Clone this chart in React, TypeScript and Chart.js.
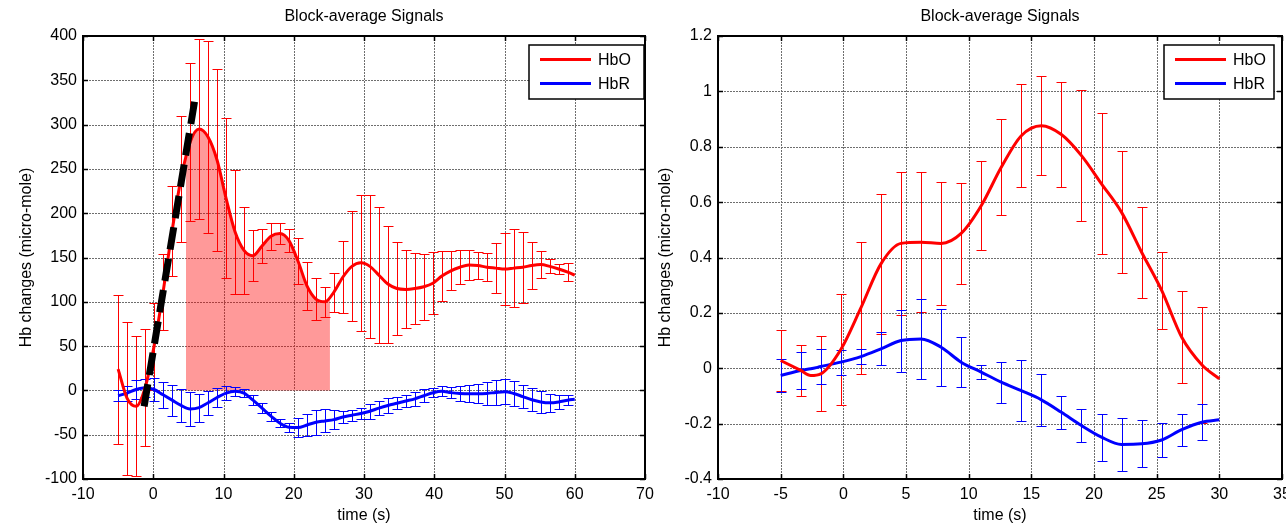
import React, { useEffect, useRef } from 'react';
import { Chart, registerables } from 'chart.js';

Chart.register(...registerables);

const FONT = "'Liberation Sans', Arial, Helvetica, sans-serif";
const H = 527;

// ---------- shared text ----------
const titleText = 'Block-average Signals';
const xTitleText = 'time (s)';
const yTitleText = 'Hb changes (micro-mole)';
const legendLabels = ['HbO', 'HbR'];

// ---------- left panel data ----------
const leftXTicks = [-10, 0, 10, 20, 30, 40, 50, 60, 70];
const leftYTicks = [-100, -50, 0, 50, 100, 150, 200, 250, 300, 350, 400];
const leftTimes = [
  -5, -3.72, -2.44, -1.16, 0.12, 1.4, 2.68, 3.96, 5.24, 6.52,
  7.8, 9.08, 10.36, 11.64, 12.92, 14.2, 15.48, 16.76, 18.04, 19.32,
  20.6, 21.88, 23.16, 24.44, 25.72, 27, 28.28, 29.56, 30.84, 32.12,
  33.4, 34.68, 35.96, 37.24, 38.52, 39.8, 41.08, 42.36, 43.64, 44.92,
  46.2, 47.48, 48.76, 50.04, 51.32, 52.6, 53.88, 55.16, 56.44, 57.72,
  59, 60,
];
const leftHbO = [
  24, -9, -18, 3, 50, 111, 180, 239, 280, 295,
  286, 260, 217, 179, 158, 152, 163, 174, 177, 169,
  146, 118, 103, 100, 111, 128, 140, 144, 140, 130,
  120, 115, 114, 115, 117, 121, 129, 135, 139, 141.5,
  141, 139, 138, 137, 138, 139, 141, 142, 140, 137,
  133.5, 130,
];
const leftHbOErr = [
  84, 86, 79, 66, 49, 43, 51, 71, 89, 102,
  108, 103, 90, 70, 49, 29, 19, 15, 12, 13,
  26, 27, 24, 17, 22, 41, 62, 77, 81, 77,
  66, 53, 44, 40, 37, 35, 28, 22, 19, 17,
  15, 16, 28, 41, 44, 40, 27, 15, 8, 6,
  10, null,
];
const leftHbR = [
  -6, -3, 1, 3, 1, -5, -11, -17, -21, -19.5,
  -14, -8, -3, -1, -3, -11, -20, -29, -37, -41.5,
  -42, -39, -36, -34.5, -33, -30, -28, -26, -23.5, -20,
  -17, -14.5, -12, -9.5, -6, -2.7, -1, -2.5, -3.4, -3.8,
  -3.8, -3.4, -2.3, -1.5, -3.5, -7, -10.5, -13, -14, -13,
  -11, -10,
];
const leftHbRErr = [
  6, 8.5, 10.7, 10.4, 13, 14.7, 17.6, 18.4, 19, 16,
  13.6, 10.8, 7.5, 4.8, 5, 6, 6, 5, 4.5, 5,
  11, 12.5, 14, 13, 11, 6.5, 6, 6, 8.5, 7.5,
  8, 7, 6.6, 8, 7.5, 5, 5.7, 6.6, 8, 9.4,
  10.7, 12.6, 14, 14.2, 13.6, 13.4, 13.2, 12, 10.4, 8,
  5.5, null,
];
// shaded window under the HbO curve
const stimWindow = [4.65, 25.15];
const stimEdgeHbO = [272, 105];
// dashed slope line
const slopeTimes = [-1.3, 5.9];
const slopeValues = [-18, 327];

// ---------- right panel data ----------
const rightXTicks = [-10, -5, 0, 5, 10, 15, 20, 25, 30, 35];
const rightYTicks = [-0.4, -0.2, 0, 0.2, 0.4, 0.6, 0.8, 1, 1.2];
const rightTimes = [
  -5, -3.4, -2.6, -1.8, -0.2, 1.4, 3, 4.6, 6.2, 7.8, 9.4, 11,
  12.6, 14.2, 15.8, 17.4, 19, 20.6, 22.2, 23.8, 25.4, 27, 28.6, 30,
];
const rightHbO = [
  0.028, -0.008, -0.026, -0.02, 0.068, 0.218, 0.377, 0.451, 0.455, 0.451, 0.487, 0.587,
  0.726, 0.84, 0.876, 0.844, 0.768, 0.666, 0.563, 0.419, 0.281, 0.112, 0.013, -0.038,
];
const rightHbOErr = [
  0.11, 0.092, null, 0.136, 0.2, 0.237, 0.253, 0.259, 0.252, 0.223, 0.181, 0.161,
  0.173, 0.187, 0.179, 0.191, 0.236, 0.255, 0.22, 0.164, 0.14, 0.167, 0.209, null,
];
const rightHbR = [
  -0.026, -0.008, -0.002, 0.006, 0.022, 0.042, 0.07, 0.1, 0.106, 0.076, 0.022, -0.014,
  -0.05, -0.081, -0.114, -0.159, -0.207, -0.249, -0.275, -0.273, -0.259, -0.222, -0.195, -0.186,
];
const rightHbRErr = [
  0.058, 0.068, null, 0.062, 0.045, 0.028, 0.06, 0.112, 0.145, 0.139, 0.09, 0.026,
  0.074, 0.109, 0.095, 0.06, 0.059, 0.085, 0.096, 0.085, 0.061, 0.058, 0.065, null,
];

const RED = '#ff0000';
const BLUE = '#0000ff';

const leftPanel: any = {
  canvasLeft: 0,
  canvasWidth: 660,
  area: { left: 83, right: 645, top: 36, bottom: 479 },
  xTicks: leftXTicks,
  yTicks: leftYTicks,
  times: leftTimes,
  hbo: leftHbO,
  hboErr: leftHbOErr,
  hbr: leftHbR,
  hbrErr: leftHbRErr,
  yTitleCenter: 27,
  legendGap: 1,
  legendWidth: 115,
  fmt: (v: number) => String(v),
  fill: true,
  slope: true,
};

const rightPanel: any = {
  canvasLeft: 650,
  canvasWidth: 636,
  area: { left: 68, right: 632, top: 36, bottom: 479 },
  xTicks: rightXTicks,
  yTicks: rightYTicks,
  times: rightTimes,
  hbo: rightHbO,
  hboErr: rightHbOErr,
  hbr: rightHbR,
  hbrErr: rightHbRErr,
  yTitleCenter: 16,
  legendGap: 8,
  legendWidth: 110,
  fmt: (v: number) => String(Math.round(v * 10) / 10),
  fill: false,
  slope: false,
};

const pts = (t: number[], v: number[]) => t.map((x, i) => ({ x, y: v[i] }));

function makePlugin(p: any, fillIndex: number) {
  const drawBars = (chart: any) => {
    const { ctx, chartArea: a, scales } = chart;
    const xs = scales.x;
    const ys = scales.y;
    ctx.save();
    ctx.beginPath();
    ctx.rect(a.left, a.top, a.right - a.left, a.bottom - a.top);
    ctx.clip();
    ctx.lineWidth = 1;
    ctx.setLineDash([]);
    const series: any[] = [
      [p.hbo, p.hboErr, RED],
      [p.hbr, p.hbrErr, BLUE],
    ];
    series.forEach(([m, e, c]) => {
      ctx.strokeStyle = c;
      ctx.beginPath();
      p.times.forEach((t: number, i: number) => {
        const err = e[i];
        if (err == null) return;
        const px = Math.round(xs.getPixelForValue(t)) + 0.5;
        const yt = Math.round(ys.getPixelForValue(m[i] + err)) + 0.5;
        const yb = Math.round(ys.getPixelForValue(m[i] - err)) + 0.5;
        ctx.moveTo(px, yt);
        ctx.lineTo(px, yb);
        ctx.moveTo(px - 5, yt);
        ctx.lineTo(px + 5, yt);
        ctx.moveTo(px - 5, yb);
        ctx.lineTo(px + 5, yb);
      });
      ctx.stroke();
    });
    ctx.restore();
  };

  return {
    id: 'matlabLook',
    beforeDatasetsDraw(chart: any) {
      const { ctx, chartArea: a, scales } = chart;
      ctx.save();
      ctx.strokeStyle = '#6e6e6e';
      ctx.lineWidth = 1;
      ctx.setLineDash([2, 1]);
      ctx.beginPath();
      p.xTicks.forEach((v: number, i: number) => {
        if (i === 0 || i === p.xTicks.length - 1) return;
        const px = Math.round(scales.x.getPixelForValue(v)) + 0.5;
        ctx.moveTo(px, a.top);
        ctx.lineTo(px, a.bottom);
      });
      p.yTicks.forEach((v: number, i: number) => {
        if (i === 0 || i === p.yTicks.length - 1) return;
        const py = Math.round(scales.y.getPixelForValue(v)) + 0.5;
        ctx.moveTo(a.left, py);
        ctx.lineTo(a.right, py);
      });
      ctx.stroke();
      ctx.restore();
      if (fillIndex < 0) drawBars(chart);
    },
    afterDatasetDraw(chart: any, args: any) {
      if (fillIndex >= 0 && args.index === fillIndex) drawBars(chart);
    },
    afterDatasetsDraw(chart: any) {
      const { ctx, chartArea: a, scales } = chart;
      ctx.save();
      ctx.setLineDash([]);
      // plot box
      ctx.strokeStyle = '#000';
      ctx.lineWidth = 2;
      ctx.strokeRect(a.left, a.top, a.right - a.left, a.bottom - a.top);
      // inward ticks
      ctx.lineWidth = 1.5;
      ctx.beginPath();
      p.xTicks.forEach((v: number) => {
        const px = Math.round(scales.x.getPixelForValue(v)) + 0.5;
        ctx.moveTo(px, a.bottom);
        ctx.lineTo(px, a.bottom - 5);
        ctx.moveTo(px, a.top);
        ctx.lineTo(px, a.top + 5);
      });
      p.yTicks.forEach((v: number) => {
        const py = Math.round(scales.y.getPixelForValue(v)) + 0.5;
        ctx.moveTo(a.left, py);
        ctx.lineTo(a.left + 5, py);
        ctx.moveTo(a.right, py);
        ctx.lineTo(a.right - 5, py);
      });
      ctx.stroke();

      // legend
      const lw = p.legendWidth;
      const lh = 54;
      const lx = a.right - p.legendGap - lw;
      const ly = 45;
      ctx.fillStyle = '#fff';
      ctx.fillRect(lx, ly, lw, lh);
      ctx.strokeStyle = '#000';
      ctx.lineWidth = 1.5;
      ctx.strokeRect(lx, ly, lw, lh);
      const colors = [RED, BLUE];
      legendLabels.forEach((lab, i) => {
        const yy = ly + 14.5 + i * 24;
        ctx.strokeStyle = colors[i];
        ctx.lineWidth = 3;
        ctx.beginPath();
        ctx.moveTo(lx + 11, yy);
        ctx.lineTo(lx + 62, yy);
        ctx.stroke();
        ctx.fillStyle = '#000';
        ctx.font = `16px ${FONT}`;
        ctx.textAlign = 'left';
        ctx.textBaseline = 'middle';
        ctx.fillText(lab, lx + 69, yy + 1.5);
      });

      // title
      ctx.fillStyle = '#000';
      ctx.font = `16px ${FONT}`;
      ctx.textAlign = 'center';
      ctx.textBaseline = 'middle';
      ctx.fillText(titleText, (a.left + a.right) / 2, 17);
      ctx.restore();
    },
  };
}

function buildConfig(p: any) {
  const datasets: any[] = [];
  if (p.slope) {
    datasets.push({
      label: 'slope',
      data: pts(slopeTimes, slopeValues),
      borderColor: '#000',
      borderWidth: 7,
      borderDash: [22.5, 9.3],
      borderCapStyle: 'butt',
      pointRadius: 0,
      tension: 0,
      fill: false,
      order: 0,
    });
  }
  datasets.push({
    label: 'HbO',
    data: pts(p.times, p.hbo),
    borderColor: RED,
    borderWidth: 3,
    pointRadius: 0,
    cubicInterpolationMode: 'monotone',
    fill: false,
    order: 1,
  });
  datasets.push({
    label: 'HbR',
    data: pts(p.times, p.hbr),
    borderColor: BLUE,
    borderWidth: 3,
    pointRadius: 0,
    cubicInterpolationMode: 'monotone',
    fill: false,
    order: 2,
  });
  let fillIndex = -1;
  if (p.fill) {
    const fillData = [{ x: stimWindow[0], y: stimEdgeHbO[0] }];
    p.times.forEach((t: number, i: number) => {
      if (t > stimWindow[0] && t < stimWindow[1]) fillData.push({ x: t, y: p.hbo[i] });
    });
    fillData.push({ x: stimWindow[1], y: stimEdgeHbO[1] });
    fillIndex = datasets.length;
    datasets.push({
      label: 'window',
      data: fillData,
      borderColor: 'rgba(0,0,0,0)',
      borderWidth: 0,
      backgroundColor: 'rgba(255,0,0,0.4)',
      pointRadius: 0,
      cubicInterpolationMode: 'monotone',
      fill: 'origin',
      order: 10,
    });
  }

  const a = p.area;
  const tickFont = { family: FONT, size: 16 };
  return {
    type: 'line',
    data: { datasets },
    options: {
      responsive: false,
      animation: false,
      devicePixelRatio: 1,
      events: [],
      layout: { padding: { left: 0, right: p.canvasWidth - a.right, top: a.top, bottom: 0 } },
      plugins: {
        legend: { display: false },
        title: { display: false },
        tooltip: { enabled: false },
      },
      scales: {
        x: {
          type: 'linear',
          min: p.xTicks[0],
          max: p.xTicks[p.xTicks.length - 1],
          afterBuildTicks: (s: any) => {
            s.ticks = p.xTicks.map((v: number) => ({ value: v }));
          },
          afterFit: (s: any) => {
            s.height = H - a.bottom;
            s.paddingLeft = 0;
            s.paddingRight = 0;
          },
          ticks: {
            color: '#000',
            font: tickFont,
            padding: 6,
            maxRotation: 0,
            autoSkip: false,
            callback: (v: any) => p.fmt(Number(v)),
          },
          grid: { display: false, drawTicks: false },
          border: { display: false },
          title: {
            display: true,
            text: xTitleText,
            color: '#000',
            font: tickFont,
            padding: { top: 0, bottom: 2 },
          },
        },
        y: {
          type: 'linear',
          min: p.yTicks[0],
          max: p.yTicks[p.yTicks.length - 1],
          afterBuildTicks: (s: any) => {
            s.ticks = p.yTicks.map((v: number) => ({ value: v }));
          },
          afterFit: (s: any) => {
            s.width = a.left;
            s.paddingTop = 0;
            s.paddingBottom = 0;
          },
          ticks: {
            color: '#000',
            font: tickFont,
            padding: 6,
            autoSkip: false,
            callback: (v: any) => p.fmt(Number(v)),
          },
          grid: { display: false, drawTicks: false },
          border: { display: false },
          title: {
            display: true,
            text: yTitleText,
            color: '#000',
            font: tickFont,
            padding: { top: p.yTitleCenter - 9.6, bottom: 0 },
          },
        },
      },
    },
    plugins: [makePlugin(p, fillIndex)],
  };
}

function PanelChart({ p }: { p: any }) {
  const ref = useRef<HTMLCanvasElement>(null);
  useEffect(() => {
    if (!ref.current) return;
    const chart = new Chart(ref.current, buildConfig(p) as any);
    return () => chart.destroy();
  }, [p]);
  return (
    <canvas
      ref={ref}
      width={p.canvasWidth}
      height={H}
      style={{ position: 'absolute', left: p.canvasLeft, top: 0, width: p.canvasWidth, height: H, display: 'block' }}
    />
  );
}

export default function App() {
  return (
    <div
      style={{
        position: 'absolute',
        left: 0,
        top: 0,
        width: 1286,
        height: H,
        overflow: 'hidden',
        background: '#fff',
      }}
    >
      <PanelChart p={leftPanel} />
      <PanelChart p={rightPanel} />
    </div>
  );
}
